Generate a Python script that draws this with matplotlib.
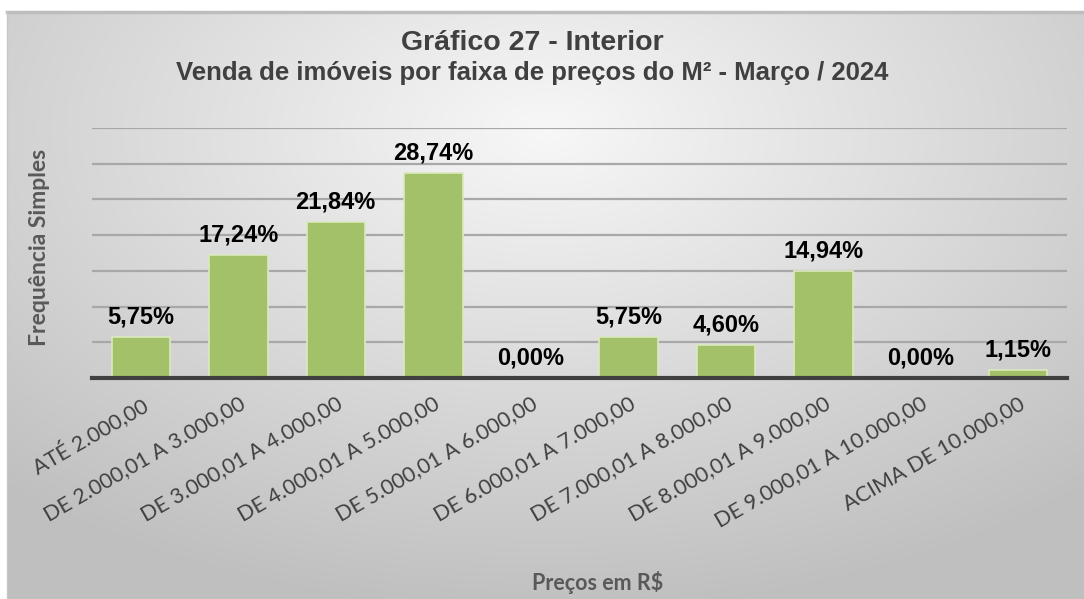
import numpy as np
import matplotlib.pyplot as plt

categories = ['ATÉ 2.000,00', 'DE 2.000,01 A 3.000,00', 'DE 3.000,01 A 4.000,00',
              'DE 4.000,01 A 5.000,00', 'DE 5.000,01 A 6.000,00', 'DE 6.000,01 A 7.000,00',
              'DE 7.000,01 A 8.000,00', 'DE 8.000,01 A 9.000,00', 'DE 9.000,01 A 10.000,00',
              'ACIMA DE 10.000,00']
values = [5.75, 17.24, 21.84, 28.74, 0.00, 5.75, 4.60, 14.94, 0.00, 1.15]

W, H = 1084, 599
fig = plt.figure(figsize=(W / 100, H / 100), dpi=100)

# radial gradient background inside the chart frame
bg = fig.add_axes([7 / W, 0, 1 - 7 / W, 1 - 12 / H])
yy, xx = np.mgrid[0:300, 0:540]
cx, cy = 270, 60
r = np.sqrt(((xx - cx) / 540) ** 2 + ((yy - cy) / 330) ** 2)
r = np.clip(r / 0.75, 0, 1)
shade = 0.97 - 0.22 * r
bg.imshow(np.dstack([shade] * 3), aspect='auto', extent=[0, 1, 0, 1], origin='upper')
bg.set_axis_off()
fig.add_artist(plt.Line2D([7 / W, 1], [1 - 12 / H] * 2, color='#bdbdbd', lw=2.5))
fig.add_artist(plt.Line2D([7 / W] * 2, [0, 1 - 12 / H], color='#c8c8c8', lw=1))

ax = fig.add_axes([92 / W, 1 - 378 / H, 975 / W, 250 / H])
ax.patch.set_alpha(0)
x = np.arange(len(categories))
ax.bar(x, values, width=0.6, color='#a3c168', edgecolor='#dbe9bd', linewidth=1.2, zorder=3)
ax.set_xlim(-0.5, len(categories) - 0.5)
ax.set_ylim(0, 35)
ax.set_yticks(np.arange(5, 36, 5))
ax.yaxis.grid(True, color='#a8a8a8', lw=1.6, zorder=0)
ax.tick_params(axis='y', length=0, labelleft=False)
ax.tick_params(axis='x', length=0, pad=11)
for s in ['top', 'right', 'left']:
    ax.spines[s].set_visible(False)
ax.spines['bottom'].set_color('#404040')
ax.spines['bottom'].set_linewidth(3)
ax.spines['bottom'].set_zorder(4)

ax.set_xticks(x)
ax.set_xticklabels(categories, rotation=30, ha='right', rotation_mode='anchor',
                   fontsize=15.5, family='Lato', color='#404040')

for xi, v in zip(x, values):
    ax.annotate(('%.2f%%' % v).replace('.', ','), (xi, v), xytext=(0, 6),
                textcoords='offset points', ha='center', va='bottom',
                fontsize=17, fontweight='bold', family='Liberation Sans', color='black')

fig.text(532 / W, 1 - 43 / H, 'Gráfico 27 - Interior', ha='center', va='center',
         fontsize=20.5, fontweight='bold', family='Liberation Sans', color='#404040')
fig.text(532 / W, 1 - 73 / H, 'Venda de imóveis por faixa de preços do M² - Março / 2024',
         ha='center', va='center', fontsize=18.5, fontweight='bold',
         family='Liberation Sans', color='#404040')
fig.text(40 / W, 1 - 247 / H, 'Frequência Simples', rotation=90, ha='center', va='center',
         fontsize=16.5, fontweight='bold', family='Lato', color='#595959')
fig.text(598 / W, 1 - 582 / H, 'Preços em R$', ha='center', va='center',
         fontsize=15.5, fontweight='bold', family='Lato', color='#595959')

fig.savefig('out.png', dpi=100)
